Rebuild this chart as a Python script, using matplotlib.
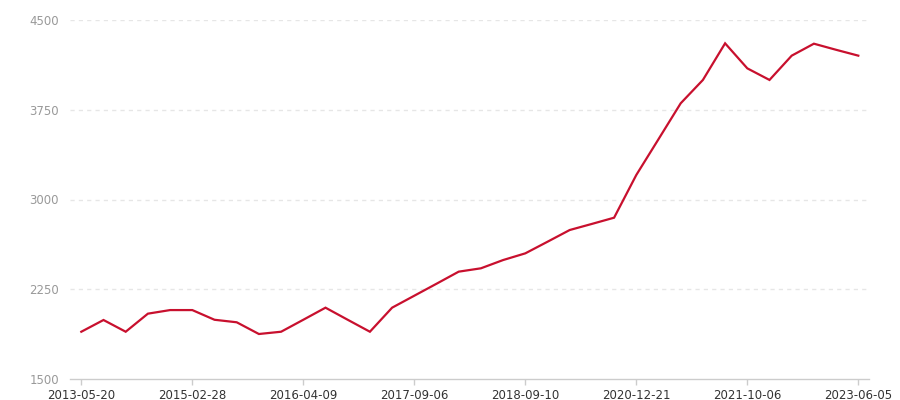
import matplotlib
matplotlib.use('Agg')
import matplotlib.pyplot as plt

tick_labels = ['2013-05-20', '2015-02-28', '2016-04-09', '2017-09-06',
               '2018-09-10', '2020-12-21', '2021-10-06', '2023-06-05']
values = [1895, 1993, 1895, 2046, 2076, 2076, 1995, 1974, 1876, 1895,
          1995, 2096, 1995, 1895, 2096, 2196, 2296, 2397, 2425, 2494,
          2550, 2647, 2745, 2796, 2848, 3205, 3504, 3804, 3999, 4305,
          4096, 3999, 4202, 4302, 4251, 4202]
y_ticks = [1500, 2250, 3000, 3750, 4500]

x = list(range(len(values)))

fig = plt.figure(figsize=(9, 4), dpi=100)
ax = fig.add_axes([0.078, 0.0525, 0.888, 0.8975])

ax.plot(x, values, color='#c8102e', linewidth=1.6, solid_joinstyle='miter')

ax.set_xlim(-0.5, len(values) - 0.5)
ax.set_ylim(1500, 4500)
ax.set_yticks(y_ticks)
ax.set_yticklabels([str(v) for v in y_ticks])
ax.set_xticks(x[::5])
ax.set_xticklabels(tick_labels)

for v in y_ticks[1:]:
    ax.axhline(v, color='#e6e6e6', linewidth=1, linestyle=(0, (3, 3)), zorder=0)

for s in ['top', 'right', 'left']:
    ax.spines[s].set_visible(False)
ax.spines['bottom'].set_color('#cccccc')
ax.spines['bottom'].set_linewidth(1)

ax.tick_params(axis='y', length=0, pad=8, labelsize=8.5, labelcolor='#999999')
ax.tick_params(axis='x', length=4, width=1, color='#cccccc', pad=3,
               labelsize=8.5, labelcolor='#333333')

fig.savefig('out.png', dpi=100)
